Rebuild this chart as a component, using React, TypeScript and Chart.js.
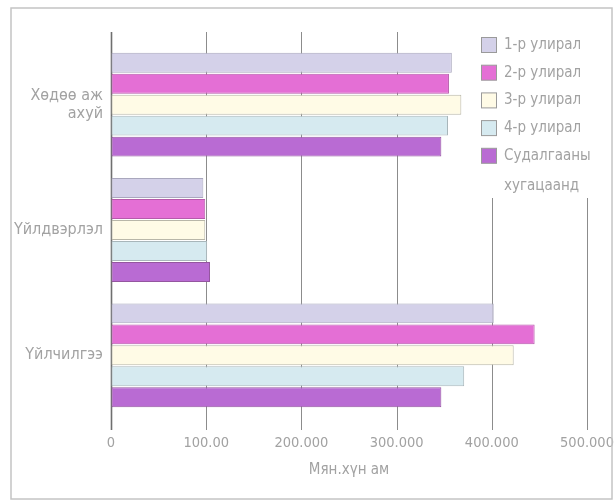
import React, { useEffect, useRef } from 'react';
import { Chart, registerables } from 'chart.js';

Chart.register(...registerables);

const categories: (string | string[])[] = [['Хөдөө аж', 'ахуй'], 'Үйлдвэрлэл', 'Үйлчилгээ'];
const seriesNames = ['1-р улирал', '2-р улирал', '3-р улирал', '4-р улирал', 'Судалгааны хугацаанд'];
const legendLines = [['1-р улирал'], ['2-р улирал'], ['3-р улирал'], ['4-р улирал'], ['Судалгааны', 'хугацаанд']];
const q1 = [358, 97, 402];
const q2 = [355, 99, 445];
const q3 = [368, 99, 423];
const q4 = [354, 101, 371];
const period = [347, 104, 347];
const xTicks = [0, 100, 200, 300, 400, 500];
const xTickLabels = ['0', '100.00', '200.000', '300.000', '400.000', '500.000'];
const axisTitle = 'Мян.хүн ам';

const seriesColors = ['#d4d1e9', '#e46fd5', '#fffbe6', '#d6eaf0', '#b96bd3'];
const seriesBorders = ['#a9a7bd', '#b65aab', '#b8b6a8', '#a8b6ba', '#94569f'];

const FONT = '"Liberation Sans Narrow", "DejaVu Sans Condensed", "Roboto Condensed", sans-serif';
const TEXT = '#a2a2a2';

export default function App() {
  const ref = useRef<HTMLCanvasElement | null>(null);

  useEffect(() => {
    const canvas = ref.current;
    if (!canvas) return;
    const values = [q1, q2, q3, q4, period];

    const linesPlugin = {
      id: 'gridLines',
      beforeDatasetsDraw(chart: any) {
        const ctx = chart.ctx;
        const xs = chart.scales.x;
        const { top, bottom } = chart.chartArea;
        ctx.save();
        xTicks.forEach((v, i) => {
          const px = Math.round(xs.getPixelForValue(v)) + 0.5;
          ctx.strokeStyle = i === 0 ? '#6f6f6f' : '#8c8c8c';
          ctx.lineWidth = i === 0 ? 1.6 : 1;
          ctx.beginPath();
          ctx.moveTo(px, top - 10);
          ctx.lineTo(px, bottom + 12);
          ctx.stroke();
        });
        ctx.restore();
      },
    };

    const legendPlugin = {
      id: 'customLegend',
      afterDraw(chart: any) {
        const ctx = chart.ctx;
        ctx.save();
        ctx.fillStyle = '#ffffff';
        ctx.fillRect(472, 28, 138, 170);
        ctx.font = `15px ${FONT}`;
        ctx.textBaseline = 'middle';
        ctx.textAlign = 'left';
        legendLines.forEach((lines, i) => {
          const cy = 45 + i * 27.7;
          ctx.fillStyle = seriesColors[i];
          ctx.fillRect(481.5, cy - 7.5, 15, 15);
          ctx.strokeStyle = '#9a9a9a';
          ctx.lineWidth = 1;
          ctx.strokeRect(481.5, cy - 7.5, 15, 15);
          ctx.fillStyle = TEXT;
          lines.forEach((t, j) => {
            ctx.fillText(t, 504, cy + j * 30);
          });
        });
        // outer frame
        ctx.strokeStyle = '#c4c4c4';
        ctx.lineWidth = 1.5;
        ctx.strokeRect(11, 8, 601, 491);
        ctx.restore();
      },
    };

    const chart = new Chart(canvas, {
      type: 'bar',
      data: {
        labels: categories,
        datasets: seriesNames.map((name, i) => ({
          label: name,
          data: values[i],
          backgroundColor: seriesColors[i],
          borderColor: seriesBorders[i],
          borderWidth: 1,
          borderSkipped: false,
          barPercentage: 0.95,
          categoryPercentage: 0.837,
        })),
      },
      options: {
        indexAxis: 'y',
        responsive: false,
        animation: false,
        layout: { padding: { top: 42, right: 28, bottom: 0, left: 0 } },
        plugins: {
          legend: { display: false },
          tooltip: { enabled: false },
        },
        scales: {
          x: {
            type: 'linear',
            min: 0,
            max: 500,
            afterFit: (s: any) => {
              s.height = 84;
              s.paddingLeft = 0;
              s.paddingRight = 0;
            },
            afterBuildTicks: (s: any) => {
              s.ticks = xTicks.map((v) => ({ value: v }));
            },
            grid: { display: true, color: 'rgba(0,0,0,0)', drawTicks: true, tickLength: 12, drawOnChartArea: false },
            border: { display: false },
            ticks: {
              padding: 5,
              color: TEXT,
              font: { family: FONT, size: 14.5 },
              maxRotation: 0,
              autoSkip: false,
              callback: (_v: any, idx: number) => xTickLabels[idx],
            },
            title: {
              display: true,
              text: axisTitle,
              color: TEXT,
              font: { family: FONT, size: 15 },
              padding: { top: 4, bottom: 23 },
            },
          },
          y: {
            afterFit: (s: any) => {
              s.width = 111;
            },
            grid: { display: false, drawTicks: false },
            border: { display: false },
            ticks: {
              padding: 8,
              color: TEXT,
              font: { family: FONT, size: 16, lineHeight: 1.15 },
            },
          },
        },
      },
      plugins: [linesPlugin, legendPlugin],
    });

    return () => chart.destroy();
  }, []);

  return (
    <div style={{ position: 'fixed', left: 0, top: 0, width: 615, height: 502, background: '#ffffff' }}>
      <canvas ref={ref} width={615} height={502} style={{ display: 'block', width: 615, height: 502 }} />
    </div>
  );
}
